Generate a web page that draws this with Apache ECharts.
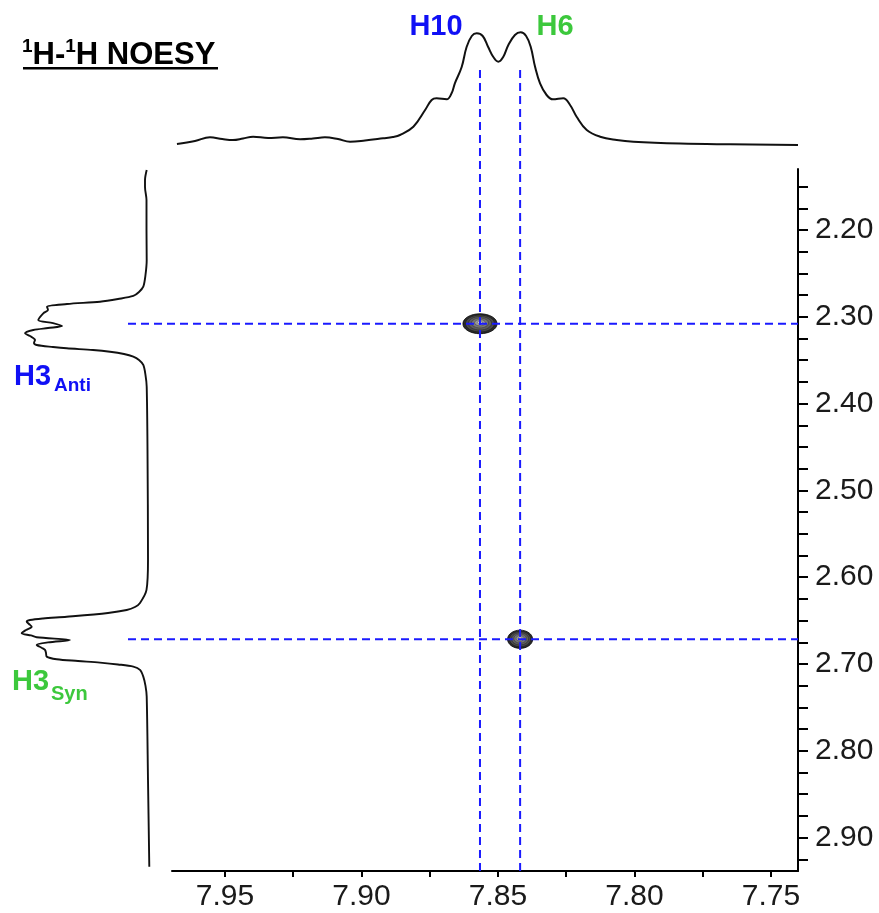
<!DOCTYPE html>
<html><head><meta charset="utf-8">
<script src="https://cdn.jsdelivr.net/npm/echarts@6/dist/echarts.min.js"></script>
<style>html,body{margin:0;padding:0;background:#fff}#c{width:879px;height:913px}</style>
</head><body><div id="c"></div>
<script>
// ---- data ----
// F2 (top) 1D projection: chemical shift (ppm) and intensity
const topPpm = [7.9676,7.961,7.9555,7.951,7.9471,7.9434,7.9397,7.9342,7.9288,7.9225,7.9178,7.9134,7.9086,7.9042,7.8987,7.8921,7.8885,7.8859,7.881,7.8767,7.8743,7.8725,7.8688,7.867,7.8658,7.8633,7.8615,7.8596,7.8578,7.8556,7.8536,7.8517,7.8499,7.8481,7.8462,7.8438,7.8417,7.8397,7.838,7.8364,7.8346,7.8322,7.8299,7.8261,7.8236,7.8212,7.8175,7.8126,7.8065,7.8004,7.7833,7.765,7.7401];
const topInt = [1,4,7.7,6,5,6.5,8.3,7,7.7,5.7,6.5,7.7,6,3.3,4.5,6.7,8,10,18.3,35,45,46.7,45.7,51.7,61.7,78,98,109,111.7,109,98,88,83.3,88,100,110,112.7,109,98,78,61.7,50,45.7,46.7,40,28.3,15,8.3,5,3.3,1.5,0.7,0];
// F1 (left) 1D projection
const leftPpm = [2.1309,2.1424,2.1505,2.1654,2.2,2.2346,2.2518,2.2653,2.2714,2.276,2.2795,2.2826,2.2853,2.2884,2.2922,2.296,2.3037,2.3072,2.3106,2.3129,2.3152,2.319,2.3221,2.3267,2.3302,2.3325,2.3348,2.3363,2.3382,2.3402,2.3429,2.346,2.3498,2.3555,2.3671,2.3805,2.4535,2.5802,2.6147,2.6297,2.6343,2.6378,2.6412,2.6455,2.6475,2.6493,2.6512,2.6539,2.657,2.6608,2.6646,2.6671,2.6692,2.6724,2.6751,2.678,2.6815,2.6838,2.6873,2.6915,2.6945,2.6965,2.6984,2.7005,2.703,2.7068,2.7146,2.7253,2.7376,2.8336,2.9335];
const leftInt = [1.3,3,3,1.5,1.5,1.3,2.5,4.7,9,14.7,30,48,81,101,100,104.7,109.7,95,86,100,114.7,123,118,113,114,111.3,95,81.3,55,38,24,14.7,9,4.7,2.5,1.3,0.5,0,1.5,8,13,21.3,40,81.3,105,118,121.3,119,116.3,122,126.3,117,111.3,78,100,111.3,106,103,102,101.3,91.3,70,48,30,14.7,8,4.7,2.5,1.3,0,-1.3];
// cross peaks (F2 ppm, F1 ppm) and their extents (ppm)
const peakF2 = [7.8566, 7.8419];
const peakF1 = [2.308, 2.6715];
const peakWidthF2 = [0.0125, 0.0092];
const peakWidthF1 = [0.023, 0.021];
// assignment guide lines
const guideF2 = [7.8566, 7.8419];   // H10, H6
const guideF1 = [2.308, 2.6715];    // H3anti, H3syn
// ticks and labels
const xTicks = [7.95,7.925,7.9,7.875,7.85,7.825,7.8,7.775,7.75];
const xLabels = [7.95,7.90,7.85,7.80,7.75];
const yTicks = [2.15,2.175,2.2,2.225,2.25,2.275,2.3,2.325,2.35,2.375,2.4,2.425,2.45,2.475,2.5,2.525,2.55,2.575,2.6,2.625,2.65,2.675,2.7,2.725,2.75,2.775,2.8,2.825,2.85,2.875,2.9,2.925];
const yLabels = [2.20,2.30,2.40,2.50,2.60,2.70,2.80,2.90];

// ---- axis extents ----
const X_MIN = 7.74011, X_MAX = 7.96941, X_OV_MAX = 7.98553;
const Y_MIN = 2.12972, Y_MAX = 2.93848, Y_OV_MIN = 2.01567;

const FONT = "'Liberation Sans', Arial, sans-serif";
const BLUE = '#1010f5', GREEN = '#3cc83c';

const chart = echarts.init(document.getElementById('c'), null, {renderer:'canvas'});

const guideSeries = [];
guideF2.forEach(v => guideSeries.push({
  type:'line', xAxisIndex:3, yAxisIndex:3, data:[[v, Y_OV_MIN],[v, Y_MAX]],
  showSymbol:false, z:6, silent:true,
  lineStyle:{color:'#1a1aff', width:2, type:[8,5]}
}));
guideF1.forEach(v => guideSeries.push({
  type:'line', xAxisIndex:3, yAxisIndex:3, data:[[X_OV_MAX, v],[X_MIN, v]],
  showSymbol:false, z:6, silent:true,
  lineStyle:{color:'#1a1aff', width:2, type:[8,5]}
}));

chart.setOption({
  animation:false,
  backgroundColor:'#fff',
  grid:[
    {left:172, right:81, top:169, bottom:42},
    {left:172, right:81, top:30, bottom:768},
    {left:0, right:728, top:169, bottom:42},
    {left:128, right:81, top:70, bottom:42}
  ],
  xAxis:[
    {type:'value', gridIndex:0, inverse:true, min:X_MIN, max:X_MAX, position:'bottom',
     axisLine:{show:true, onZero:false, lineStyle:{color:'#000', width:2}},
     axisTick:{show:true, customValues:xTicks, length:6, lineStyle:{color:'#000', width:2}},
     axisLabel:{customValues:xLabels, formatter:v=>Number(v).toFixed(2), fontFamily:FONT, fontSize:30, color:'#1a1a1a', margin:11},
     splitLine:{show:false}},
    {type:'value', gridIndex:1, inverse:true, min:X_MIN, max:X_MAX, show:false},
    {type:'value', gridIndex:2, inverse:true, min:-3, max:148, show:false},
    {type:'value', gridIndex:3, inverse:true, min:X_MIN, max:X_OV_MAX, show:false}
  ],
  yAxis:[
    {type:'value', gridIndex:0, inverse:true, min:Y_MIN, max:Y_MAX, position:'right',
     axisLine:{show:true, onZero:false, lineStyle:{color:'#000', width:2}},
     axisTick:{show:true, customValues:yTicks, length:10, lineStyle:{color:'#000', width:2}},
     axisLabel:{customValues:yLabels, formatter:v=>Number(v).toFixed(2), fontFamily:FONT, fontSize:30, color:'#1a1a1a', margin:17},
     splitLine:{show:false}},
    {type:'value', gridIndex:1, min:0, max:115, show:false},
    {type:'value', gridIndex:2, inverse:true, min:Y_MIN, max:Y_MAX, show:false},
    {type:'value', gridIndex:3, inverse:true, min:Y_OV_MIN, max:Y_MAX, show:false}
  ],
  series:[
    {type:'line', xAxisIndex:1, yAxisIndex:1, data:topPpm.map((p,i)=>[p, topInt[i]]),
     showSymbol:false, smooth:0.4, silent:true, lineStyle:{color:'#111', width:2}},
    {type:'line', xAxisIndex:2, yAxisIndex:2, data:leftPpm.map((p,i)=>[leftInt[i], p]),
     showSymbol:false, smooth:0.3, silent:true, lineStyle:{color:'#111', width:1.9}},
    {type:'custom', xAxisIndex:0, yAxisIndex:0, z:3, silent:true,
     data:peakF2.map((p,i)=>[p, peakF1[i], peakWidthF2[i], peakWidthF1[i]]),
     renderItem:(params, api)=>{
       const c = api.coord([api.value(0), api.value(1)]);
       const s = api.size([api.value(2), api.value(3)]);
       const rx = s[0]/2, ry = s[1]/2;
       const rings = [[1,'#2b2b2b','#000'],[0.85,'#4a4a4a','#222'],[0.68,'#5e5e5e','#333'],[0.5,'#777','#444'],[0.32,'#999','#555'],[0.15,'#ccc','#777']];
       return {type:'group', children: rings.map(r=>({
         type:'ellipse', shape:{cx:c[0], cy:c[1]-ry*(1-r[0])*0.15, rx:rx*r[0], ry:ry*r[0]},
         style:{fill:r[1], stroke:r[2], lineWidth:0.8}
       }))};
     }},
    ...guideSeries
  ],
  graphic:[
    {type:'text', x:22, y:54, style:{
      text:'{s|1}{m|H-}{s|1}{m|H NOESY}', fill:'#000', textVerticalAlign:'middle',
      rich:{
        m:{fontFamily:FONT, fontWeight:'bold', fontSize:31, fill:'#000', lineHeight:34, verticalAlign:'bottom'},
        s:{fontFamily:FONT, fontWeight:'bold', fontSize:19, fill:'#000', lineHeight:34, verticalAlign:'top'}
      }}},
    {type:'rect', shape:{x:23, y:67, width:195, height:2.5}, style:{fill:'#000'}},
    {type:'text', x:436, y:27, style:{text:'H10', font:"bold 29px "+FONT, fill:BLUE, textAlign:'center', textVerticalAlign:'middle'}},
    {type:'text', x:555, y:27, style:{text:'H6', font:"bold 29px "+FONT, fill:GREEN, textAlign:'center', textVerticalAlign:'middle'}},
    {type:'text', x:14, y:377, style:{text:'H3', font:"bold 29px "+FONT, fill:BLUE, textVerticalAlign:'middle'}},
    {type:'text', x:54, y:386, style:{text:'Anti', font:"bold 19px "+FONT, fill:BLUE, textVerticalAlign:'middle'}},
    {type:'text', x:12, y:682, style:{text:'H3', font:"bold 29px "+FONT, fill:GREEN, textVerticalAlign:'middle'}},
    {type:'text', x:51, y:694, style:{text:'Syn', font:"bold 20px "+FONT, fill:GREEN, textVerticalAlign:'middle'}}
  ]
});
</script>
</body></html>
